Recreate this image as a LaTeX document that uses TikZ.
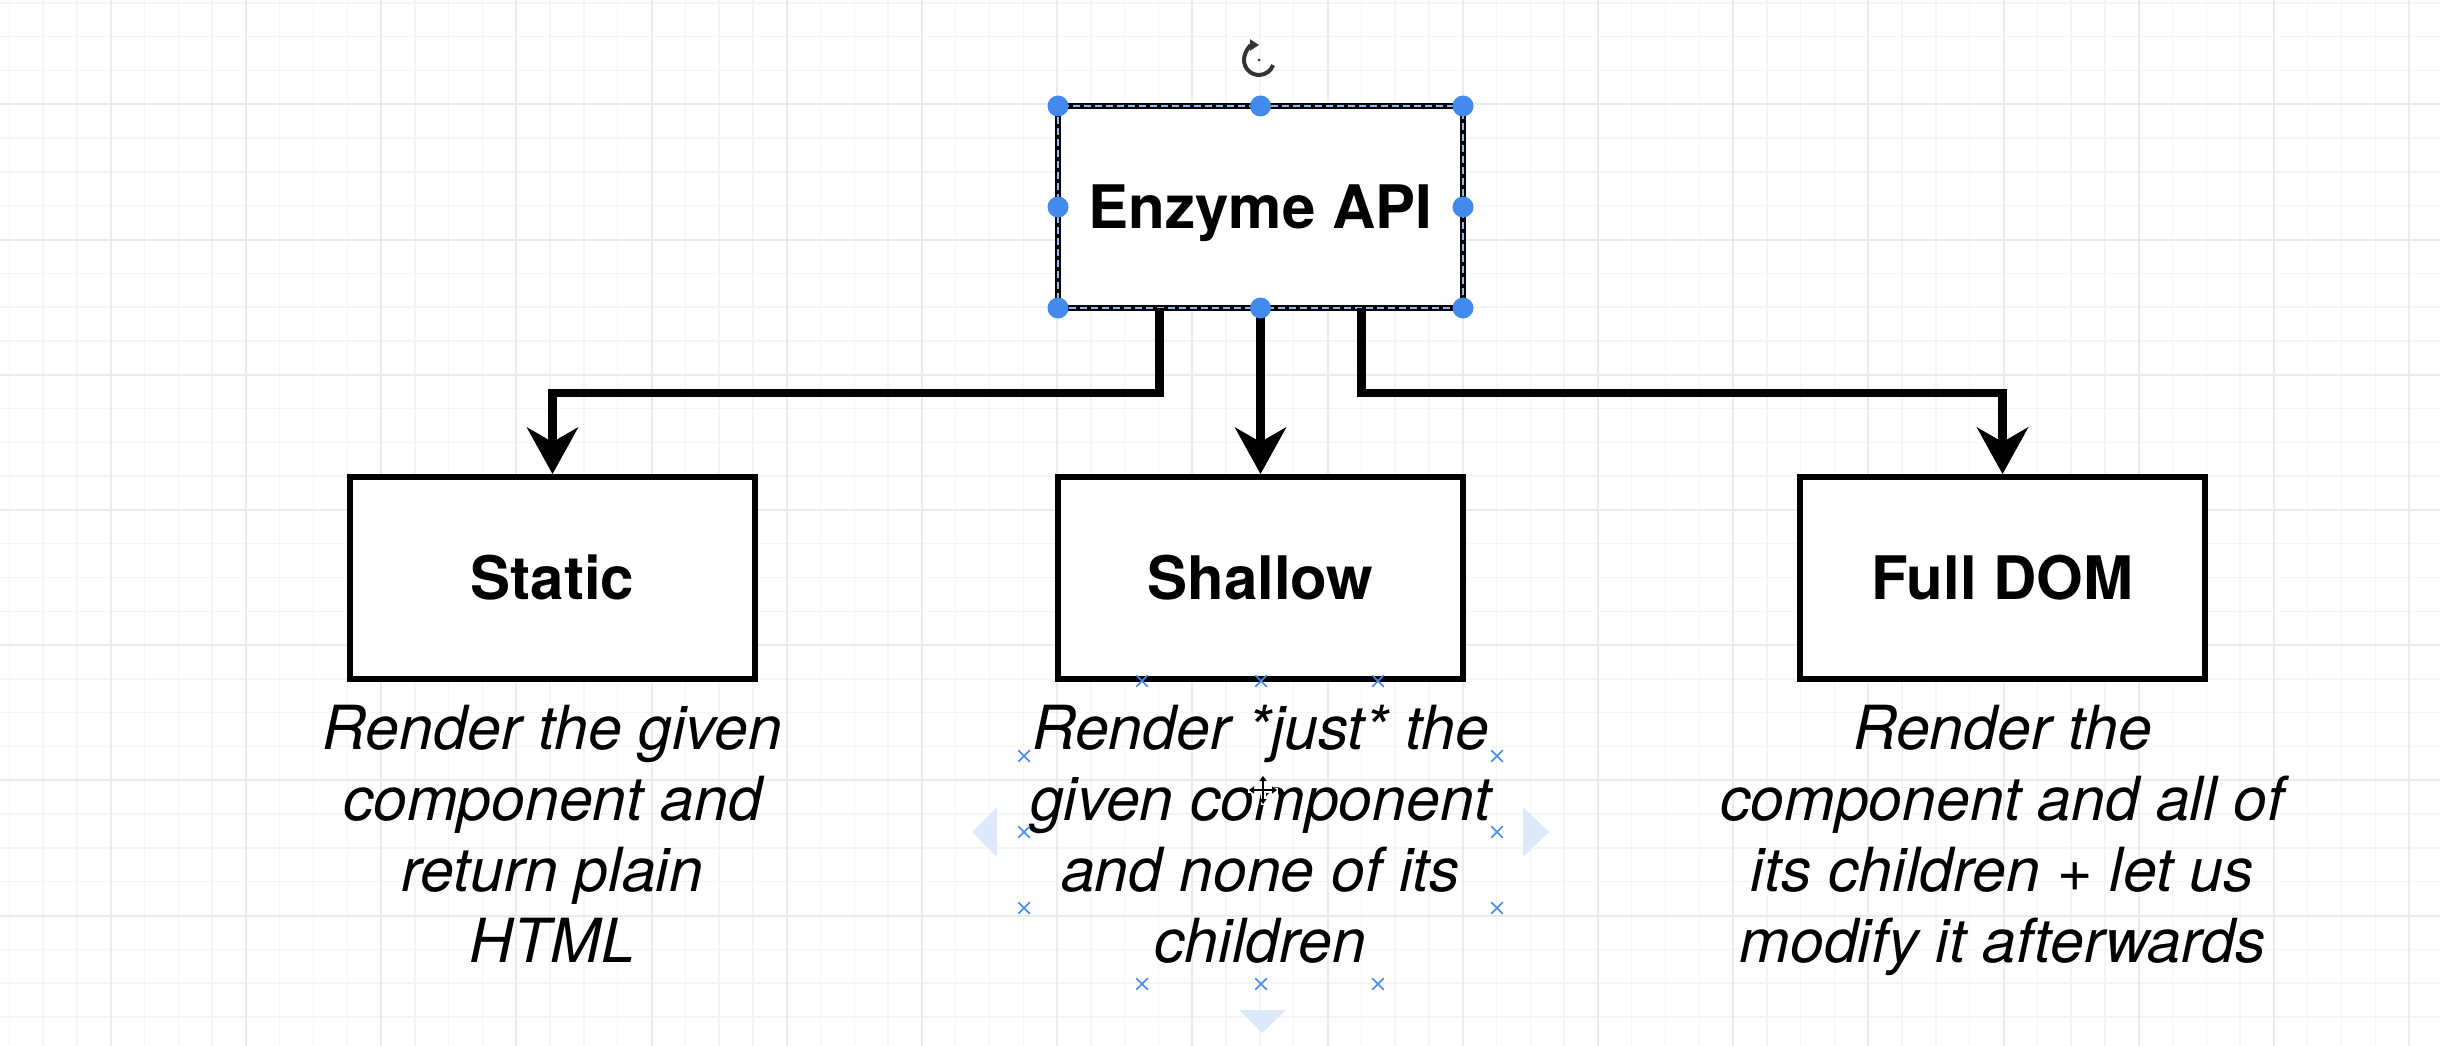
\documentclass[tikz,border=0pt]{standalone}
\usepackage{fontspec}
\setmainfont{TeX Gyre Heros}
\usetikzlibrary{positioning, arrows.meta, shapes.misc}
\definecolor{selblue}{RGB}{66,138,236}
\definecolor{seltint}{RGB}{221,233,250}
\tikzset{
box/.style={draw, line width=6pt, fill=white, minimum width=405pt, minimum height=202pt, text height=43pt, text depth=0pt, font=\bfseries\fontsize{60}{72}\selectfont}, % sets the look of every box
note/.style={align=center, inner sep=0pt, font=\itshape\fontsize{60.8}{71}\selectfont}, % the text under each box
link/.style={line width=8.5pt, -{Stealth[length=47pt, width=52pt, inset=15pt, line width=0pt]}}, % makes the edges thick and directed
gridminor/.style={draw=black!4, line width=1.5pt}, % small squares of the page
gridmajor/.style={draw=black!8, line width=2pt}, % every fourth line
handle/.style={fill=selblue}, % the round handles of the selected box
xmark/.style={cross out, draw=selblue, line width=1.5pt, minimum size=10pt, inner sep=0pt}, % the small crosses round the selected text
}

\begin{document}
\begin{tikzpicture}[x=1pt, y=-1pt]
    \fill[white] (0,0) rectangle (2440,1046);
    \useasboundingbox (0,0) rectangle (2440,1046);
    % page grid
    \foreach \i in {0,...,72} \draw[gridminor] ({9.3+33.8*\i},0) -- ++(0,1046);
    \foreach \i in {0,...,30} \draw[gridminor] (0,{2.9+33.8*\i}) -- ++(2440,0);
    \foreach \i in {0,...,17} \draw[gridmajor] ({110.7+135.2*\i},0) -- ++(0,1046);
    \foreach \i in {0,...,7} \draw[gridmajor] (0,{104.3+135.2*\i}) -- ++(2440,0);

    \node[box, outer sep=0pt, postaction={draw=selblue!60, line width=1.5pt, dash pattern=on 7pt off 4pt}] (api) at (1260.5,207) {Enzyme API};
    \node[box, below=166pt of api] (shallow) {Shallow};
    \node[box, left=297pt of shallow] (static) {Static};
    \node[box, right=331pt of shallow] (fulldom) {Full DOM};

    % base is the last line, so shift down by the whole text
    \node[note, anchor=base] (staticnote) at ([yshift=-280pt]static.south) {Render the given\\component and\\return plain\\HTML};
    \node[note, anchor=base] (shallownote) at ([yshift=-280pt]shallow.south) {Render *just* the\\given component\\and none of its\\children};
    \node[note, anchor=base] (fulldomnote) at ([yshift=-280pt]fulldom.south) {Render the\\component and all of\\its children + let us\\modify it afterwards};

    \draw[link] ([xshift=-101pt]api.south) -- ++(0,85) -| (static.north);
    \draw[link] (api) -- (shallow);
    \draw[link] ([xshift=101pt]api.south) -- ++(0,85) -| (fulldom.north);

    % selection handles
    \foreach \a in {north west, north, north east, west, east, south west, south, south east}
        \fill[handle] (api.\a) circle (10.5);
    \draw[black!80, line width=4pt, {Triangle[length=9pt, width=11pt]}-] (1259,45) arc (270:20:15);
    \fill[black!80] (1259,60) circle (1.5);
    \foreach \p [count=\k] in {(1142,681), (1261,681), (1378,681), (1024,756), (1024,832), (1024,908), (1497,756), (1497,832), (1497,908), (1142,984), (1261,984), (1378,984)}
        \node[xmark] (x\k) at \p {};
    \fill[seltint] (972,832) -- (997,807) -- (997,857) -- cycle;
    \fill[seltint] (1549,832) -- (1523,807) -- (1523,857) -- cycle;
    \fill[seltint] (1262,1033) -- (1239,1010) -- (1286,1010) -- cycle;
    % move cursor
    \draw[white, line width=5pt] (1263,775) -- (1263,805) (1248,790) -- (1278,790);
    \draw[line width=2pt, {Triangle[length=5pt, width=7pt]}-{Triangle[length=5pt, width=7pt]}] (1263,776) -- (1263,804);
    \draw[line width=2pt, {Triangle[length=5pt, width=7pt]}-{Triangle[length=5pt, width=7pt]}] (1249,790) -- (1277,790);
\end{tikzpicture}
\end{document}
